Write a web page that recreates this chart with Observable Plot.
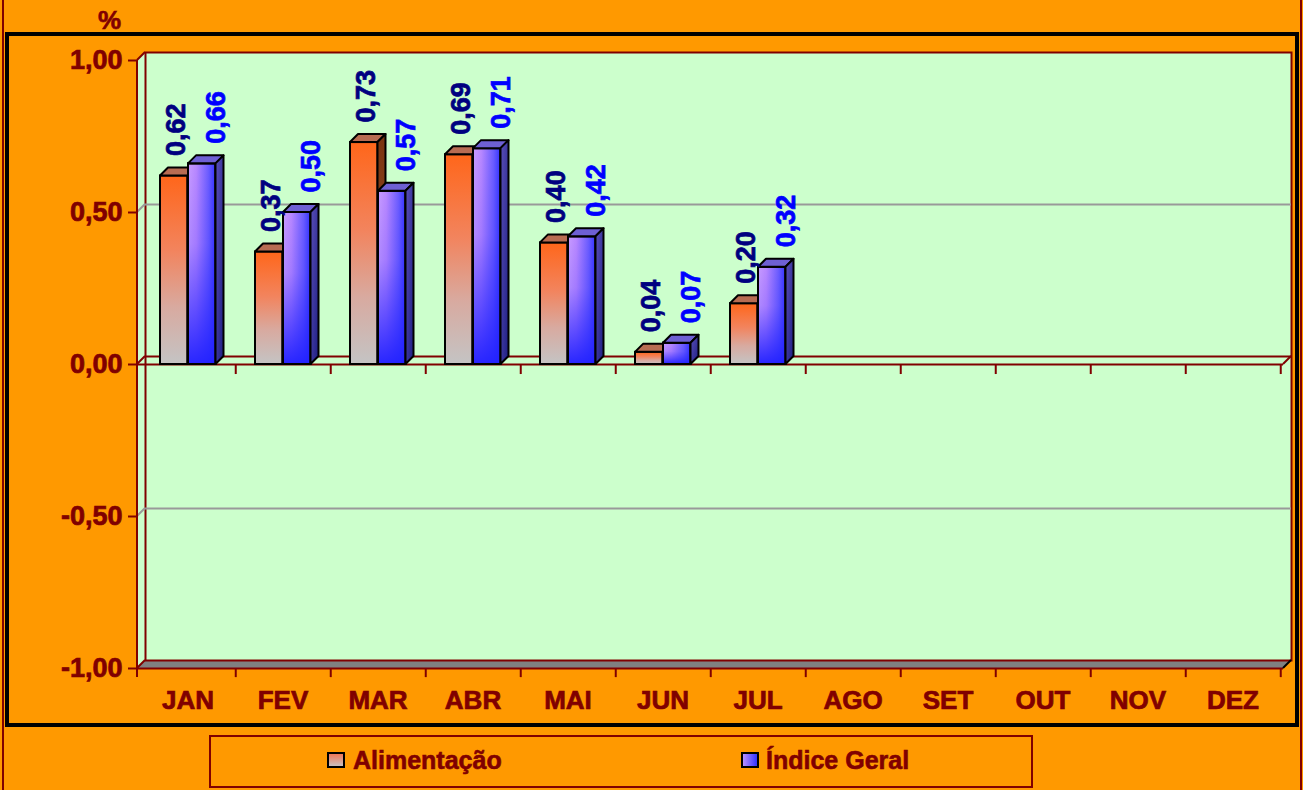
<!DOCTYPE html>
<html><head><meta charset="utf-8">
<script src="https://cdn.jsdelivr.net/npm/d3@7"></script>
<script src="https://cdn.jsdelivr.net/npm/@observablehq/plot@0.6"></script>
<style>
html,body{margin:0;padding:0;}
body{width:1303px;height:790px;background:#FF9900;position:relative;overflow:hidden;font-family:"Liberation Sans",Arial,sans-serif;}
#outerL{position:absolute;left:2px;top:0;width:2px;height:790px;background:#800000;}
#outerR{position:absolute;left:1300px;top:0;width:2px;height:790px;background:#800000;}
#frame{position:absolute;left:5px;top:32px;width:1286px;height:687px;border:4px solid #000;}
#pct{position:absolute;left:98px;top:7px;font-weight:bold;font-size:26px;line-height:26px;color:#800000;-webkit-text-stroke:0.6px #800000;}
#chart{position:absolute;left:0;top:0;}
#legend{position:absolute;left:209px;top:735px;width:820px;height:49px;border:2px solid #800000;}
.sw{position:absolute;width:14px;height:12px;border:2px solid #000;top:752px;}
.lt{position:absolute;font-weight:bold;font-size:25px;line-height:25px;color:#800000;white-space:nowrap;top:748px;-webkit-text-stroke:0.6px #800000;}
</style>
</head>
<body>
<svg width="0" height="0" style="position:absolute">
  <defs>
    <linearGradient id="gAlim" x1="0" y1="0" x2="0" y2="1">
      <stop offset="0" stop-color="#FF661A"/>
      <stop offset="0.4" stop-color="#F2845E"/>
      <stop offset="0.7" stop-color="#D8AAA0"/>
      <stop offset="1" stop-color="#C4C4C4"/>
    </linearGradient>
    <linearGradient id="gGeral" x1="0" y1="0" x2="1" y2="0">
      <stop offset="0" stop-color="#C89CFF"/>
      <stop offset="0.3" stop-color="#B888FF"/>
      <stop offset="0.75" stop-color="#6A5CFF"/>
      <stop offset="1" stop-color="#3333FF"/>
    </linearGradient>
    <linearGradient id="gGeralV" x1="0" y1="0" x2="0" y2="1">
      <stop offset="0" stop-color="#2828FF" stop-opacity="0"/>
      <stop offset="0.4" stop-color="#2828FF" stop-opacity="0.15"/>
      <stop offset="1" stop-color="#2020FF" stop-opacity="0.95"/>
    </linearGradient>
    <linearGradient id="gAlimSide" x1="0" y1="0" x2="0" y2="1">
      <stop offset="0" stop-color="#7A3510"/>
      <stop offset="1" stop-color="#A0522D"/>
    </linearGradient>
    <linearGradient id="gGeralSide" x1="0" y1="0" x2="1" y2="1">
      <stop offset="0" stop-color="#5A4FB8"/>
      <stop offset="1" stop-color="#1E1E82"/>
    </linearGradient>
  </defs>
</svg>
<div id="outerL"></div>
<div id="outerR"></div>
<div id="pct">%</div>
<div id="legend"></div>
<div class="sw" style="left:327px;background:linear-gradient(#F07858,#C8C0C0);"></div>
<div class="lt" style="left:353px;">Alimentação</div>
<div class="sw" style="left:741px;background:linear-gradient(90deg,#B890FF,#3333FF);"></div>
<div class="lt" style="left:766px;">Índice Geral</div>
<script>
const months = ["JAN","FEV","MAR","ABR","MAI","JUN","JUL","AGO","SET","OUT","NOV","DEZ"];
const alimentacao = [0.62, 0.37, 0.73, 0.69, 0.40, 0.04, 0.20];
const indiceGeral = [0.66, 0.50, 0.57, 0.71, 0.42, 0.07, 0.32];
const yTicks = [-1, -0.5, 0, 0.5, 1];
const gridValues = [0.5, -0.5];

const alim = alimentacao.map((v, i) => ({month: months[i], value: v}));
const geral = indiceGeral.map((v, i) => ({month: months[i], value: v}));
const fmt = d => d3.format(".2f")(d).replace(".", ",").replace("−", "-");

const W = 1303, H = 730, ML = 137, MR = 20, MT = 60, MB = 62, D = 8;
const bw = (W - ML - MR) / months.length;
const dark = "#800000";
const font = "'Liberation Sans', Arial, sans-serif";

const chart = Plot.plot({
  width: W, height: H,
  marginLeft: ML, marginRight: MR, marginTop: MT, marginBottom: MB,
  style: {background: "transparent", fontFamily: font, overflow: "visible"},
  x: {type: "band", domain: months, padding: 0},
  y: {domain: [-1, 1]},
  marks: [
    Plot.frame({fill: "#CCFFCC", stroke: dark, strokeWidth: 2, dx: D, dy: -D}),
    Plot.ruleY(gridValues, {stroke: "#999999", strokeWidth: 2, dx: D, dy: -D}),
    Plot.ruleY([0], {stroke: dark, strokeWidth: 2, dx: D, dy: -D}),
    Plot.ruleY([0, -1], {stroke: dark, strokeWidth: 2}),
    Plot.ruleX(months, {x: d => d, y1: 0, y2: -0.033, dx: bw / 2, stroke: dark, strokeWidth: 2}),
    Plot.ruleX(months, {x: d => d, y1: -1, y2: -1.03, dx: bw / 2, stroke: dark, strokeWidth: 2}),
    Plot.axisY({ticks: yTicks, tickFormat: fmt, tickSize: 9, tickPadding: 6, fontSize: 27, fontWeight: "bold", color: dark, strokeWidth: 2, label: null}),
    Plot.axisX({tickSize: 0, tickPadding: 22, fontSize: 26, fontWeight: "bold", color: dark, label: null}),
    Plot.barY(alim, {x: "month", y: "value", fill: "url(#gAlim)", stroke: "#000", strokeWidth: 2, insetLeft: 20, insetRight: bw - 48}),
    Plot.barY(geral, {x: "month", y: "value", fill: "url(#gGeral)", stroke: "#000", strokeWidth: 2, insetLeft: 48, insetRight: bw - 76}),
    Plot.text(alim, {x: "month", y: "value", text: d => fmt(d.value), rotate: -90, textAnchor: "start", dx: -12, dy: -20, fill: "#000080", fontSize: 27, fontWeight: "bold"}),
    Plot.text(geral, {x: "month", y: "value", text: d => fmt(d.value), rotate: -90, textAnchor: "start", dx: 28, dy: -20, fill: "#0000FF", fontSize: 27, fontWeight: "bold"})
  ]
});
chart.id = "chart";
document.body.appendChild(chart);
const frameDiv = document.createElement("div");
frameDiv.id = "frame";
document.body.appendChild(frameDiv);

// heavier text, like the reference
chart.querySelectorAll("g").forEach(g => {
  const f = g.getAttribute("fill");
  if (f && g.querySelector(":scope > text")) {
    g.setAttribute("stroke", f);
    g.setAttribute("stroke-width", 0.7);
  }
});

// 3D decorations derived from the Plot scales and rendered bars
const NS = "http://www.w3.org/2000/svg";
const sy = chart.scale("y"), sx = chart.scale("x");
const y = d3.scaleLinear(sy.domain, sy.range);
const xL = Math.min(...sx.range), xR = Math.max(...sx.range);
function el(tag, attrs, parent) {
  const e = document.createElementNS(NS, tag);
  for (const k in attrs) e.setAttribute(k, attrs[k]);
  if (parent) parent.appendChild(e);
  return e;
}
const pts = a => a.map(p => p.join(",")).join(" ");

// side wall and floor behind everything
const back = el("g", {});
el("polygon", {points: pts([[xL, y(1)], [xL + D, y(1) - D], [xL + D, y(-1) - D], [xL, y(-1)]]), fill: "#CCFFCC"}, back);
el("polygon", {points: pts([[xL, y(-1)], [xL + D, y(-1) - D], [xR + D, y(-1) - D], [xR, y(-1)]]), fill: "#808080"}, back);
const styleEl = chart.querySelector("style");
chart.insertBefore(back, styleEl ? styleEl.nextSibling : chart.firstChild);

// diagonals and the vertical axis line
const front = el("g", {"stroke-width": 2, fill: "none"}, chart);
for (const v of yTicks) {
  el("line", {x1: xL, y1: y(v), x2: xL + D, y2: y(v) - D, stroke: gridValues.includes(v) ? "#999999" : dark}, front);
}
el("line", {x1: xR, y1: y(0), x2: xR + D, y2: y(0) - D, stroke: dark}, front);
el("line", {x1: xR, y1: y(-1), x2: xR + D, y2: y(-1) - D, stroke: "#000"}, front);
el("line", {x1: xL, y1: y(1), x2: xL, y2: y(-1) + 9, stroke: dark}, front);

// bar top and side faces
const barGroups = chart.querySelectorAll('g[aria-label="bar"]');
const faceFill = [["#B86C52", "url(#gAlimSide)"], ["#6E60D4", "url(#gGeralSide)"]];
barGroups.forEach((g, gi) => {
  const rects = Array.from(g.querySelectorAll("rect"));
  rects.forEach(r => {
    const x = +r.getAttribute("x"), yy = +r.getAttribute("y");
    const w = +r.getAttribute("width"), h = +r.getAttribute("height");
    if (gi === 1) {
      const ov = r.cloneNode(false);
      ov.setAttribute("fill", "url(#gGeralV)");
      g.appendChild(ov);
    }
    el("polygon", {points: pts([[x, yy], [x + D, yy - D], [x + w + D, yy - D], [x + w, yy]]), fill: faceFill[gi][0], stroke: "#000", "stroke-width": 2, "stroke-linejoin": "round"}, g);
    el("polygon", {points: pts([[x + w, yy], [x + w + D, yy - D], [x + w + D, yy + h - D], [x + w, yy + h]]), fill: faceFill[gi][1], stroke: "#000", "stroke-width": 2, "stroke-linejoin": "round"}, g);
  });
});
</script>
</body></html>
